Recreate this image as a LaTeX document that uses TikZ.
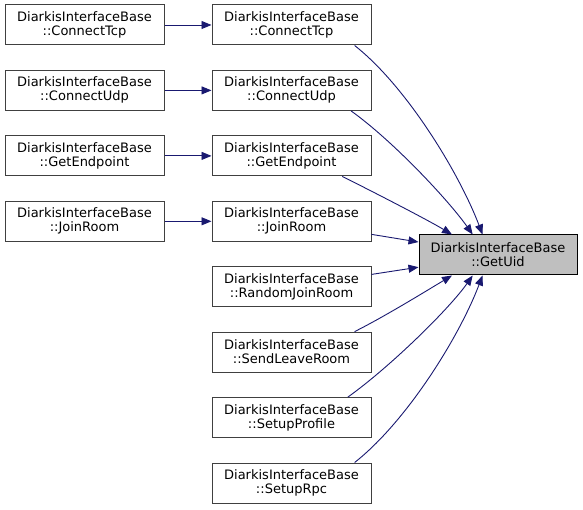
\documentclass[tikz,border=0pt]{standalone}
\usepackage{fontspec}
\setmainfont{DejaVu Sans}
\usetikzlibrary{arrows.meta}
\definecolor{edgeblue}{HTML}{191970}
\definecolor{boxgray}{HTML}{BFBFBF}
\begin{document}
\begin{tikzpicture}[x=1pt,y=1pt,
  fn/.style={draw=black!75, line width=1pt, minimum width=159pt, minimum height=40pt, inner sep=0pt, align=center, font=\fontsize{13}{14}\selectfont},
  cur/.style={fn, draw=black, fill=boxgray, minimum width=158pt},
  edge/.style={draw=edgeblue, line width=0.9pt, -{Triangle[length=10pt,width=8pt]}}
]
\useasboundingbox (0,0) rectangle (583,509);
% left column
\node[fn] (ltcp) at (84.5,484) {DiarkisInterfaceBase\\::ConnectTcp};
\node[fn] (ludp) at (84.5,418.6) {DiarkisInterfaceBase\\::ConnectUdp};
\node[fn] (lend) at (84.5,353.1) {DiarkisInterfaceBase\\::GetEndpoint};
\node[fn] (ljoin) at (84.5,287.7) {DiarkisInterfaceBase\\::JoinRoom};
% middle column
\node[fn] (mtcp) at (291.5,484) {DiarkisInterfaceBase\\::ConnectTcp};
\node[fn] (mudp) at (291.5,418.6) {DiarkisInterfaceBase\\::ConnectUdp};
\node[fn] (mend) at (291.5,353.1) {DiarkisInterfaceBase\\::GetEndpoint};
\node[fn] (mjoin) at (291.5,287.7) {DiarkisInterfaceBase\\::JoinRoom};
\node[fn] (mrand) at (291.5,222.3) {DiarkisInterfaceBase\\::RandomJoinRoom};
\node[fn] (mleave) at (291.5,156.9) {DiarkisInterfaceBase\\::SendLeaveRoom};
\node[fn] (mprof) at (291.5,91.4) {DiarkisInterfaceBase\\::SetupProfile};
\node[fn] (mrpc) at (291.5,26.0) {DiarkisInterfaceBase\\::SetupRpc};
% target
\node[cur] (uid) at (498,254) {DiarkisInterfaceBase\\::GetUid};
% horizontal edges
\draw[edge] (ltcp) -- (mtcp);
\draw[edge] (ludp) -- (mudp);
\draw[edge] (lend) -- (mend);
\draw[edge] (ljoin) -- (mjoin);
% edges into target
\draw[edge] (mtcp.-18) .. controls +(51,-40) and +(-24,63) .. (uid.127);
\draw[edge] (mudp.-19) .. controls +(42,-30) and +(-24,34) .. (uid.141);
\draw[edge] (mend.-22) .. controls +(30,-15) and +(-25,15) .. (uid.156);
\draw[edge] (mjoin) -- (uid);
\draw[edge] (mrand) -- (uid);
\draw[edge] (mleave.18) .. controls +(30,15) and +(-25,-15) .. (uid.-156);
\draw[edge] (mprof.20) .. controls +(42,30) and +(-24,-34) .. (uid.-141);
\draw[edge] (mrpc.18) .. controls +(51,40) and +(-24,-63) .. (uid.-127);
\end{tikzpicture}
\end{document}
